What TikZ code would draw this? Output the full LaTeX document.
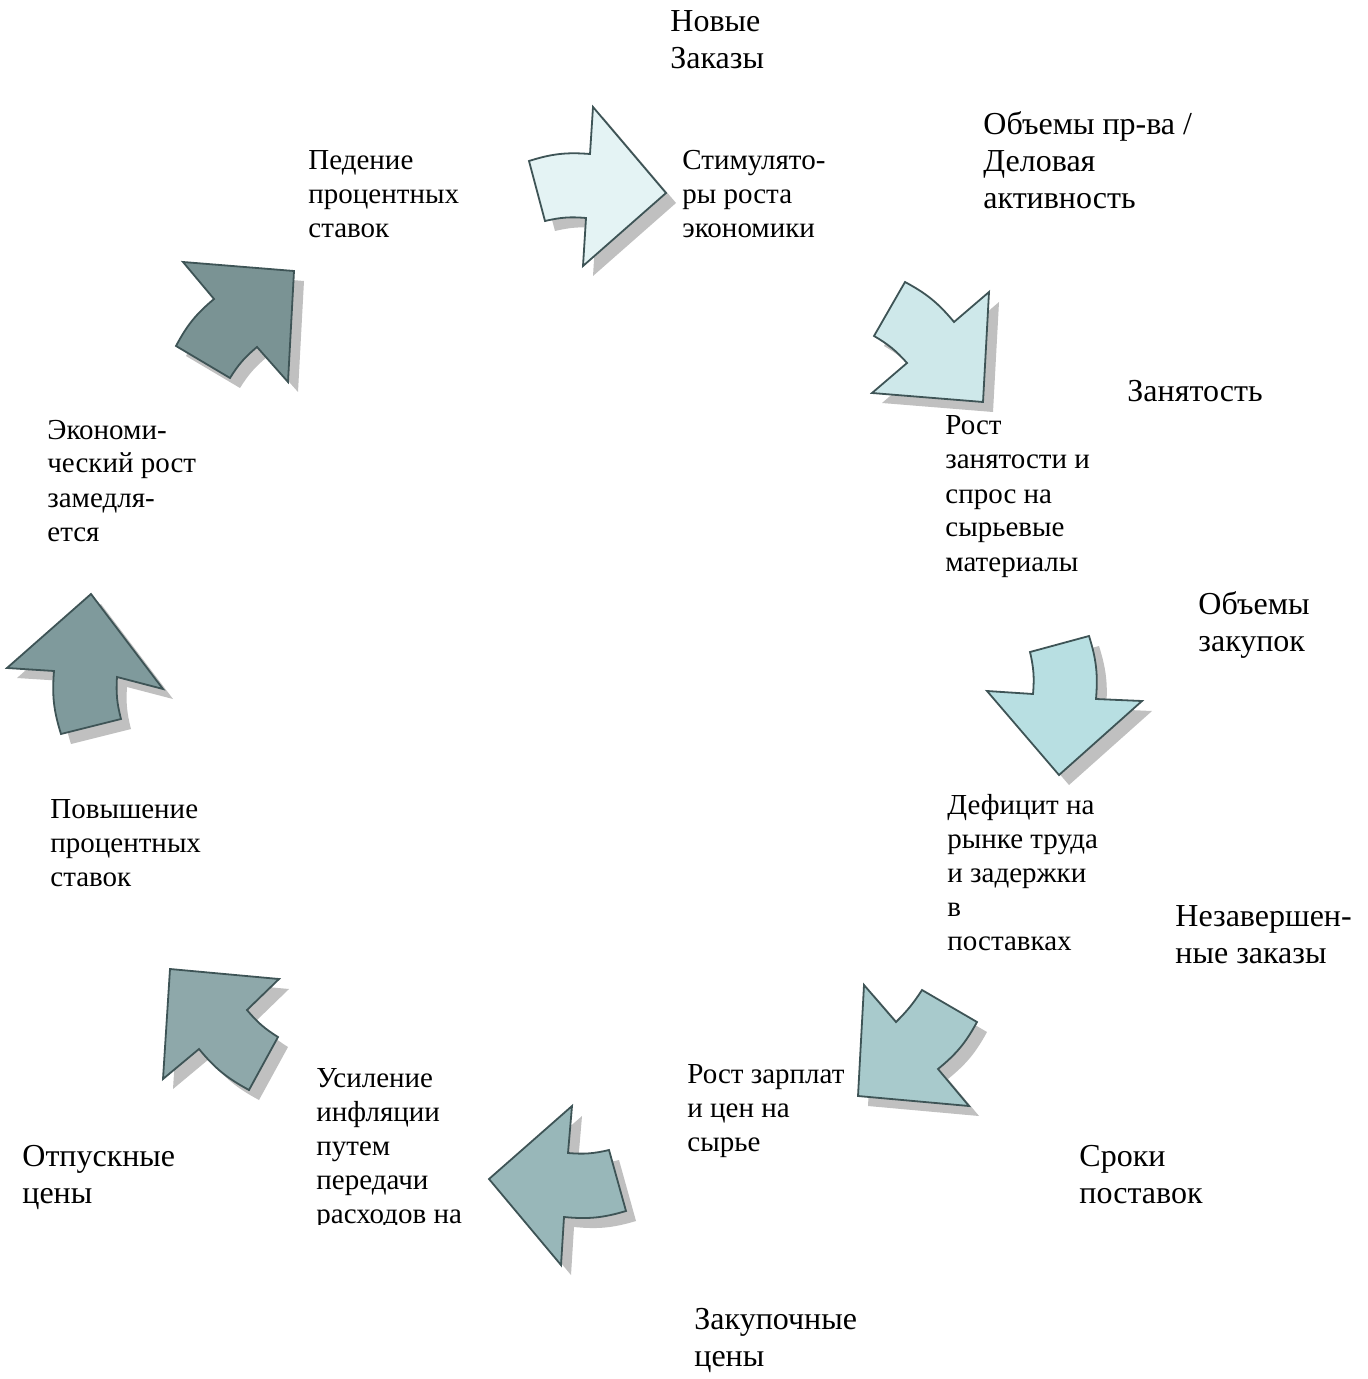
\documentclass[tikz,border=0pt]{standalone}
\usepackage{fontspec}
\setmainfont{Liberation Serif}
\definecolor{arrline}{HTML}{3E5456}
\definecolor{shadowgray}{HTML}{C0C0C0}
\definecolor{fA}{HTML}{E4F3F4}
\definecolor{fB}{HTML}{CEE8EA}
\definecolor{fC}{HTML}{B8DFE2}
\definecolor{fD}{HTML}{A8CACC}
\definecolor{fE}{HTML}{98B7B9}
\definecolor{fF}{HTML}{8EA8AA}
\definecolor{fG}{HTML}{7F9A9C}
\definecolor{fH}{HTML}{7A9394}
\newcommand\lns[1]{\begin{tabular}[t]{@{}l@{}}#1\end{tabular}}
\newcommand\ArrA{(529,-161) to[bend left=11] (590,-154) -- (593,-107) -- (666,-193) -- (583,-266) -- (586,-218) to[bend right=9] (545,-221) -- cycle}
\newcommand\ArrB{(905,-282) to[bend left=11] (954,-322) -- (989,-292) -- (983,-402) -- (872,-393) -- (907,-363) to[bend right=9] (874,-336) -- cycle}
\newcommand\ArrC{(1030,-652) -- (1089,-636) to[bend left=11] (1096,-699) -- (1142,-701) -- (1059,-775) -- (987,-691) -- (1033,-694) to[bend right=9] cycle}
\newcommand\ArrD{(864,-985) -- (896,-1022) to[bend right=6] (922,-990) -- (977,-1022) to[bend left=11] (938,-1069) -- (969,-1106) -- (858,-1096) -- cycle}
\newcommand\ArrE{(572,-1106) -- (568,-1153) to[bend right=9] (609,-1150) -- (626,-1211) to[bend left=11] (564,-1217) -- (561,-1265) -- (489,-1179) -- cycle}
\newcommand\ArrF{(170,-969) -- (279,-979) -- (247,-1010) to[bend right=9] (278,-1037) -- (249,-1090) to[bend left=11] (199,-1049) -- (163,-1079) -- cycle}
\newcommand\ArrG{(91,-594) -- (163,-689) -- (117,-677) to[bend right=9] (121,-719) -- (61,-734) to[bend left=11] (54,-671) -- (7,-668) -- cycle}
\newcommand\ArrH{(183,-262) -- (294,-271) -- (288,-382) -- (257,-347) to[bend right=9] (230,-378) -- (176,-346) to[bend left=11] (214,-299) -- cycle}
\begin{document}
\begin{tikzpicture}[x=0.5pt,y=0.5pt,
  arr/.style={draw=arrline, line width=0.9pt, line join=miter},
  shd/.style={fill=shadowgray, draw=none, shift={(10,-10)}},
  outer/.style={inner sep=0pt, anchor=base west, font=\fontsize{16}{18.5}\selectfont},
  inner/.style={inner sep=0pt, anchor=base west, font=\fontsize{14.5}{17}\selectfont}]
\useasboundingbox[fill=white] (0,0) rectangle (1368,-1379);
% shadows
\fill[shd] \ArrA;
\fill[shd] \ArrB;
\fill[shd] \ArrC;
\fill[shd] \ArrD;
\fill[shd] \ArrE;
\fill[shd] \ArrF;
\fill[shd] \ArrG;
\fill[shd] \ArrH;
% arrows
\filldraw[arr, fill=fA] \ArrA;
\filldraw[arr, fill=fB] \ArrB;
\filldraw[arr, fill=fC] \ArrC;
\filldraw[arr, fill=fD] \ArrD;
\filldraw[arr, fill=fE] \ArrE;
\filldraw[arr, fill=fF] \ArrF;
\filldraw[arr, fill=fG] \ArrG;
\filldraw[arr, fill=fH] \ArrH;
% outer labels
\node[outer] (novye) at (670,-32) {\lns{Новые\\Заказы}};
\node[outer] (obemy) at (983,-135) {\lns{Объемы пр-ва /\\Деловая\\активность}};
\node[outer] (zanyat) at (1127,-401) {Занятость};
\node[outer] (zakup) at (1198,-614) {\lns{Объемы\\закупок}};
\node[outer] (nezav) at (1175,-926) {\lns{Незавершен-\\ные заказы}};
\node[outer] (sroki) at (1079,-1166) {\lns{Сроки\\поставок}};
\node[outer] (zakcen) at (694,-1329) {\lns{Закупочные\\цены}};
\node[outer] (otpusk) at (22,-1166) {\lns{Отпускные\\цены}};
% inner labels
\node[inner] (pedenie) at (308,-170) {\lns{Педение\\процентных\\ставок}};
\node[inner] (stimul) at (682,-170) {\lns{Стимулято-\\ры роста\\экономики}};
\node[inner] (rost) at (945,-435) {\lns{Рост\\занятости и\\спрос на\\сырьевые\\материалы}};
\node[inner] (deficit) at (947,-814) {\lns{Дефицит на\\рынке труда\\и задержки\\в\\поставках}};
\node[inner] (zarpl) at (687,-1083) {\lns{Рост зарплат\\и цен на\\сырье}};
\begin{scope}
\clip (300,-1040) rectangle (520,-1224);
\node[inner] (usil) at (316,-1087) {\lns{Усиление\\инфляции\\путем\\передачи\\расходов на}};
\end{scope}
\node[inner] (ekon) at (47,-439) {\lns{Экономи-\\ческий рост\\замедля-\\ется}};
\node[inner] (povysh) at (50,-818) {\lns{Повышение\\процентных\\ставок}};
\end{tikzpicture}
\end{document}
